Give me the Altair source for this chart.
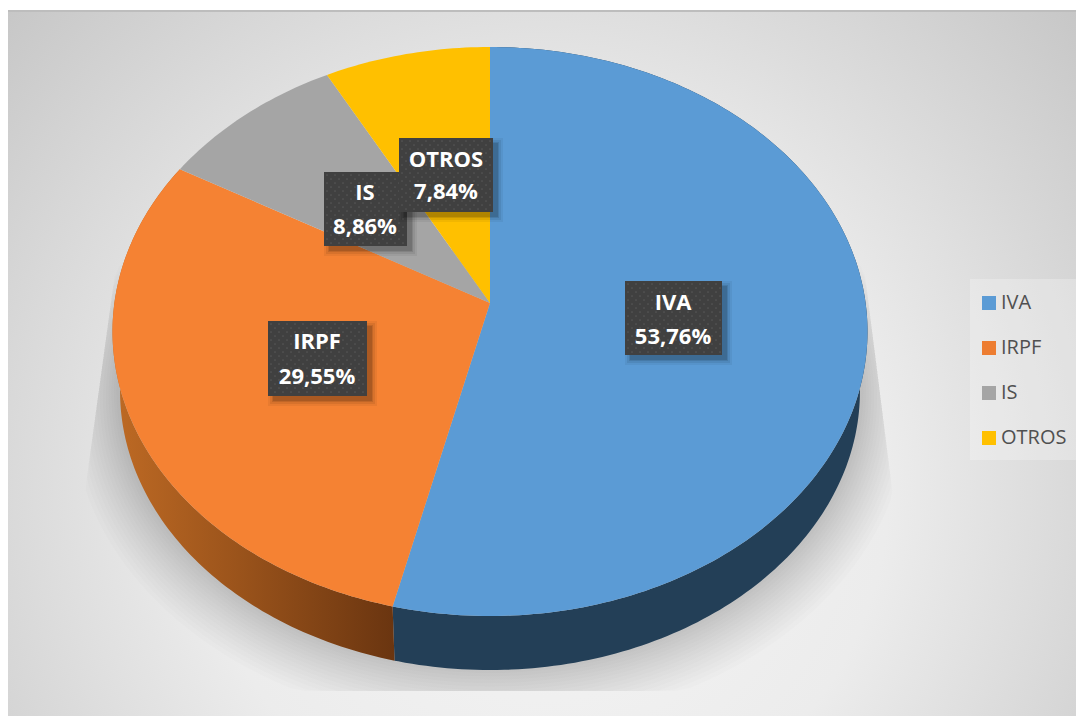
import numpy as np
import pandas as pd
import altair as alt

categories = ["IVA", "IRPF", "IS", "OTROS"]
shares = [53.76, 29.55, 8.86, 7.84]
pct_labels = ["53,76%", "29,55%", "8,86%", "7,84%"]
face_colors = ["#5B9BD5", "#F58233", "#A5A5A5", "#FFC000"]
legend_colors = ["#5B9BD5", "#ED7D31", "#A5A5A5", "#FFC000"]

# label boxes (left, right, top, bottom) and text centres, in page pixels
box_l = [625, 268, 324, 399]
box_r = [722, 367, 407, 493]
box_t = [281, 321, 172, 138]
box_b = [355, 396, 246, 212]
text_x = [673, 317, 365, 446]
name_y = [303, 342, 193, 160]
pct_y = [337, 377, 227, 192]

W, H = 1068, 708
X_SCALE = alt.Scale(domain=[8, 1076], range=[0, W], nice=False, zero=False)
Y_SCALE = alt.Scale(domain=[716, 8], range=[H, 0], nice=False, zero=False)
xe = alt.X("x:Q", scale=X_SCALE, axis=None)
ye = alt.Y("y:Q", scale=Y_SCALE, axis=None)

CX, CY = 490.0, 303.0


def project(theta_deg, shrink=1.0, drop=0.0):
    t = np.radians(theta_deg)
    u, v = np.sin(t), -np.cos(t)
    k = -0.1002
    d = 1 + k * v
    px = 375.6 * u / d
    py = (251.3 * v + CY) / d
    return CX + px * shrink, CY + (py - CY) * shrink + drop


def poly(xs, ys, mark):
    df = pd.DataFrame({"x": xs, "y": ys, "i": range(len(xs))})
    return alt.Chart(df).mark_line(**mark).encode(x=xe, y=ye, order="i:Q")


def box(l, r, t, b, **mark):
    df = pd.DataFrame({"x": [l], "x2": [r], "y": [t], "y2": [b]})
    return alt.Chart(df).mark_rect(**mark).encode(x=xe, x2="x2:Q", y=ye, y2="y2:Q")


bg = box(8, 1076, 10, 716, fill=alt.RadialGradient(
    gradient="radial", x1=0.5, y1=0.62, r1=0.0, x2=0.5, y2=0.62, r2=0.72,
    stops=[alt.GradientStop(color="#f6f6f6", offset=0),
           alt.GradientStop(color="#ececec", offset=0.45),
           alt.GradientStop(color="#c2c2c2", offset=1)]))

layers = [bg, box(8, 1076, 10, 12, fill="#bdbdbd")]

# soft shadow: widening copies of the pie's lower rim, cut off by the wedge and floor
rim_t = np.arange(0, 361, 2.0)
for step in range(15):
    grow = 0.99 + step * 0.0065 * (1 + step * 0.02)
    rx, ry = project(rim_t, shrink=grow, drop=60.3)
    ry = ry + step * 1.2
    wedge_left = 118 - (np.clip(ry, 250, 490) - 250) * 33 / 240
    wedge_right = 862 + (np.clip(ry, 250, 495) - 250) * 31 / 245
    cx = np.clip(rx, wedge_left, wedge_right)
    cy = np.clip(ry, 250, 691)
    layers.append(poly(cx, cy, dict(fill="#000000", fillOpacity=0.013, strokeWidth=0)))

# slices
edges = np.concatenate([[0], np.cumsum(shares)]) * 3.6
edges[-1] = 360.0

wall_fills = [
    "#233F57",
    alt.LinearGradient(gradient="linear", x1=0, y1=0, x2=1, y2=0,
                       stops=[alt.GradientStop(color="#BE6A24", offset=0),
                              alt.GradientStop(color="#9A531B", offset=0.45),
                              alt.GradientStop(color="#6A3510", offset=1)]),
]
for idx in [0, 1]:
    th = np.array(np.arange(edges[idx], edges[idx + 1], 1.0).tolist() + [edges[idx + 1]])
    tx, ty = project(th)
    bx, by = project(th, shrink=0.98, drop=60.3)
    xs = np.concatenate([tx, bx[::-1], tx[:1]])
    ys = np.concatenate([ty, by[::-1], ty[:1]])
    layers.append(poly(xs, ys, dict(fill=wall_fills[idx], strokeWidth=0)))

for idx, col in enumerate(face_colors):
    th = np.array(np.arange(edges[idx], edges[idx + 1], 1.0).tolist() + [edges[idx + 1]])
    tx, ty = project(th)
    xs = np.concatenate([[CX], tx, [CX]])
    ys = np.concatenate([[CY], ty, [CY]])
    layers.append(poly(xs, ys, dict(fill=col, strokeWidth=0)))

# label boxes: shadow, body, dots, text
for idx in range(4):
    for grow, op in [(5, 0.05), (3, 0.07), (1, 0.10), (0, 0.12)]:
        layers.append(box(box_l[idx] + 5 - grow, box_r[idx] + 5 + grow,
                          box_t[idx] + 5 - grow, box_b[idx] + 5 + grow,
                          fill="#000000", opacity=op))
    layers.append(box(box_l[idx], box_r[idx], box_t[idx], box_b[idx], fill="#404040"))
    dx, dy = [], []
    for r, yy in enumerate(np.arange(box_t[idx] + 3, box_b[idx] - 1, 4)):
        for xx in np.arange(box_l[idx] + 3 + (4 if r % 2 else 0), box_r[idx] - 1, 8):
            dx.append(xx)
            dy.append(yy)
    ddf = pd.DataFrame({"x": dx, "y": dy})
    layers.append(alt.Chart(ddf).mark_point(filled=True, size=3, color="#565656", opacity=1).encode(x=xe, y=ye))

tdf = pd.DataFrame({
    "x": text_x * 2,
    "y": name_y + pct_y,
    "t": categories + pct_labels,
})
layers.append(alt.Chart(tdf).mark_text(
    font="Open Sans", fontSize=22, fontWeight="bold", color="#ffffff", align="center", baseline="middle"
).encode(x=xe, y=ye, text="t:N"))

# legend panel and legend carrier
layers.append(box(970, 1076, 279, 460, fill="#ffffff", opacity=0.25))
ldf = pd.DataFrame({"x": [8] * 4, "y": [8] * 4, "cat": categories})
layers.append(alt.Chart(ldf).mark_square(size=0, opacity=1).encode(
    x=xe, y=ye,
    color=alt.Color("cat:N", scale=alt.Scale(domain=categories, range=legend_colors),
                    legend=alt.Legend(
                        title=None, orient="none", legendX=971, legendY=285,
                        direction="vertical", padding=0,
                        symbolType="square", symbolSize=196, symbolOpacity=1,
                        symbolStrokeWidth=0,
                        labelFont="Open Sans", labelFontSize=20, labelColor="#505050",
                        labelOffset=2, rowPadding=25, labelLimit=90)),
))

chart = alt.layer(*layers).resolve_scale(x="shared", y="shared").properties(
    width=W, height=H, padding=0, background="#ffffff"
).configure_view(stroke=None)

chart.save("out.html", embed_options={"renderer": "svg", "actions": False})
